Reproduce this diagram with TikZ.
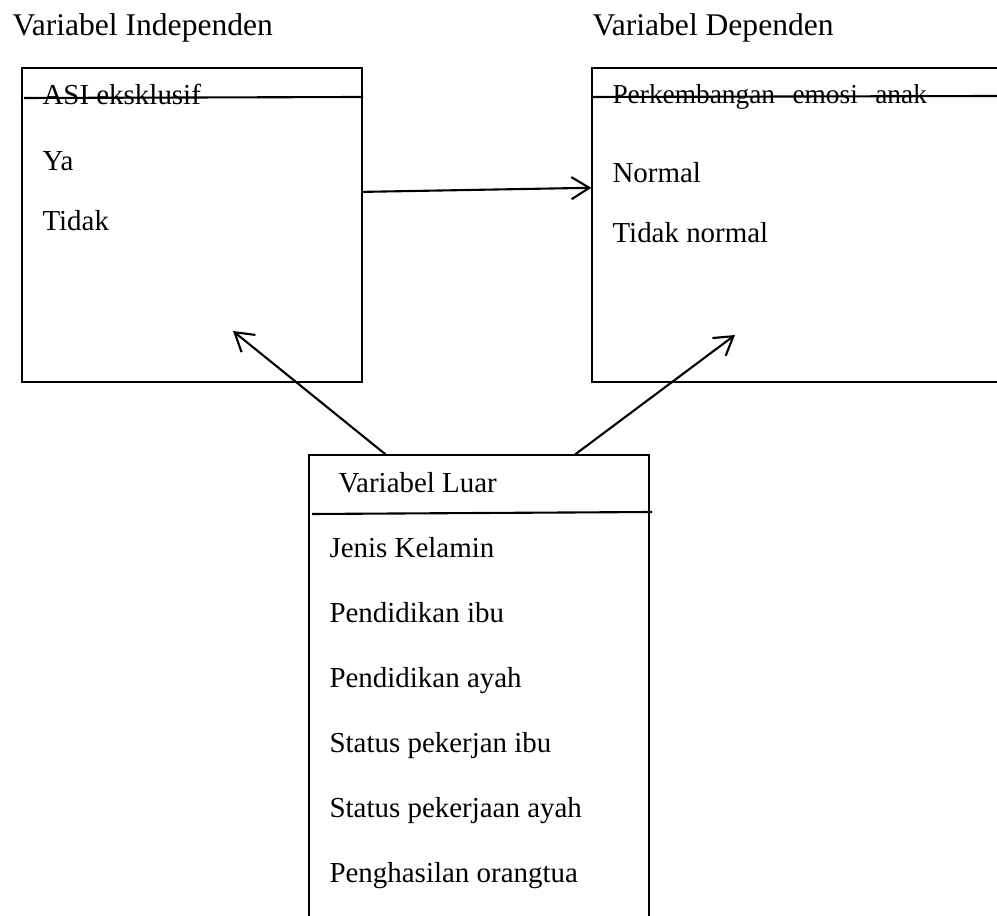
\documentclass[tikz,border=0pt]{standalone}
\usepackage{fontspec}
\setmainfont{Liberation Serif}
\usetikzlibrary{arrows.meta,calc}
\tikzset{
  box/.style={draw, line width=0.5pt, inner sep=0pt},
  title/.style={anchor=base west, inner sep=0pt, font=\fontsize{12}{14}\selectfont},
  lbl/.style={anchor=base west, inner sep=0pt, font=\fontsize{11}{13}\selectfont},
  arr/.style={-{Straight Barb[length=6.8pt,width=8.4pt]}, line width=0.8pt}
}
\begin{document}
\begin{tikzpicture}[x=0.38pt, y=-0.38pt]
\useasboundingbox (0,0) rectangle (997,916);
\clip (0,0) rectangle (997,916);

\node[box, minimum width=340*0.38pt, minimum height=314*0.38pt] (indep) at (192,225) {};
\node[box, minimum width=408*0.38pt, minimum height=314*0.38pt] (dep) at (796,225) {};
\node[box, minimum width=340*0.38pt, minimum height=470*0.38pt] (luar) at (479,690) {};

\node[title] (tIndep) at (12,36) {Variabel Independen};
\node[title] (tDep) at (592,36) {Variabel Dependen};

\node[lbl] (asi) at (42,105) {ASI eksklusif};
\node[lbl] (ya) at (42,171) {Ya};
\node[lbl] (tidak) at (42,231) {Tidak};
\draw[line width=0.8pt] (24,98) -- (363,97);

\node[lbl, font=\fontsize{10.4}{12}\selectfont] (emosi) at (612,104)
  {Perkembangan\hspace{6.6pt}emosi\hspace{6.6pt}anak};
\node[lbl] (normal) at (612,183) {Normal};
\node[lbl] (tnormal) at (612,243) {Tidak normal};
\draw[line width=0.8pt] (592,97) -- (997,96);

\node[lbl] (luarT) at (338,493) {Variabel Luar};
\draw[line width=0.8pt] (312,514) -- (652,512);
\foreach \txt [count=\i] in {Jenis Kelamin, Pendidikan ibu, Pendidikan ayah,
    Status pekerjan ibu, Status pekerjaan ayah, Penghasilan orangtua}
  \node[lbl] (item\i) at (329,{558+65*(\i-1)}) {\txt};

\coordinate (iTip) at (233,331);
\coordinate (dTip) at (735,335);
\draw[arr] ($(indep.north east)!0.395!(indep.south east)$) -- ($(dep.north west)!0.382!(dep.south west)$);
\draw[arr] ($(luar.north west)!0.226!(luar.north east)$) -- (iTip);
\draw[arr] ($(luar.north west)!0.782!(luar.north east)$) -- (dTip);

\end{tikzpicture}
\end{document}
